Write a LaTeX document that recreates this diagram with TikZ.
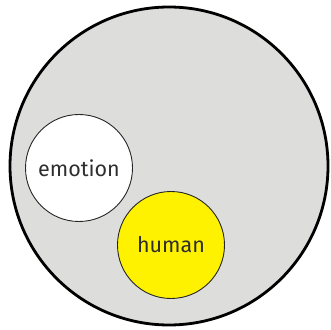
\documentclass[tikz,border=0pt]{standalone}
\usepackage{fontspec}
\newfontfamily\labelfont{Fira Sans}
\usepackage{tikz}
\usetikzlibrary{positioning}
\usepackage{xcolor}
\definecolor{setgray}{HTML}{DDDDDB}
\definecolor{setyellow}{HTML}{FFF200}
\definecolor{labelgray}{HTML}{2E2E2E}

\begin{document}
\begin{tikzpicture}[x=1pt,y=1pt,
    universe/.style={circle, draw=black, line width=2.8pt, fill=setgray,
                     minimum size=318pt, inner sep=0pt},
    subset/.style={circle, draw=black!85, line width=0.9pt, fill=#1,
                   minimum size=107pt, inner sep=0pt,
                   font=\labelfont\fontsize{21.5}{24}\selectfont, text=labelgray}
  ]
    \useasboundingbox (0,0) rectangle (331,329);
    \node[universe]          (outer)   at (169,163) {};
    \node[subset=white]      (emotion) at (79,161)  {emotion};
    \node[subset=setyellow]  (human)   at (171,84)  {human};
  \end{tikzpicture}
\end{document}
